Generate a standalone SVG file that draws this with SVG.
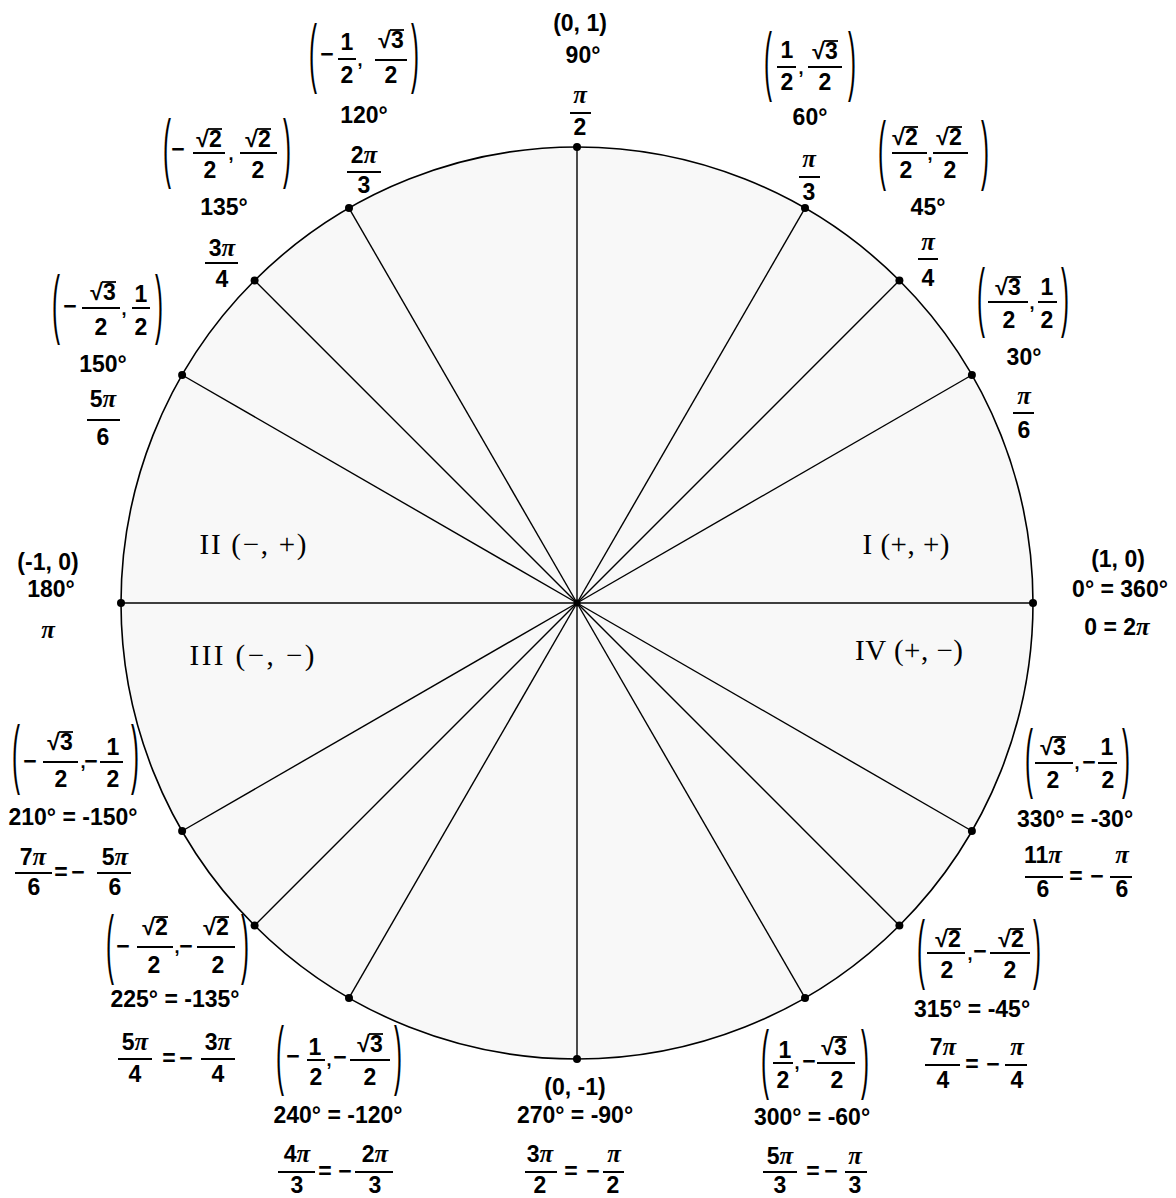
<svg xmlns="http://www.w3.org/2000/svg" width="1176" height="1198" viewBox="0 0 1176 1198">
<style>
.t{font-family:"Liberation Sans",Arial,sans-serif;font-weight:bold;font-size:23px;text-anchor:middle;fill:#000}
.pi{font-family:"Liberation Serif","Times New Roman",serif;font-style:italic;font-weight:bold;font-size:25px}
.b{stroke:#000;stroke-width:2}
.v{stroke:#000;stroke-width:1.8}
.pr{font-family:"Liberation Sans",Arial,sans-serif;font-size:24px;text-anchor:middle;fill:#000}
.q{font-family:"Liberation Serif","Times New Roman",serif;font-size:29px;text-anchor:middle;fill:#000}
.c{font-family:"Liberation Sans",Arial,sans-serif;font-weight:bold;font-size:18px;text-anchor:middle;fill:#000}
.ln{stroke:#000;stroke-width:1.4}
.dot{fill:#000}
</style>
<rect width="1176" height="1198" fill="#fff"/>
<circle id="unit-circle" cx="577" cy="603" r="456" fill="#f8f8f8" stroke="#000" stroke-width="1.6"/>
<g id="connectors">
<line class="ln" x1="577" y1="603" x2="1033" y2="603" stroke-width="1.8"/>
<line class="ln" x1="577" y1="603" x2="971.9" y2="375"/>
<line class="ln" x1="577" y1="603" x2="899.4" y2="280.6" stroke-width="2"/>
<line class="ln" x1="577" y1="603" x2="805" y2="208.1"/>
<line class="ln" x1="577" y1="603" x2="577" y2="147" stroke-width="1.8"/>
<line class="ln" x1="577" y1="603" x2="349" y2="208.1"/>
<line class="ln" x1="577" y1="603" x2="254.6" y2="280.6"/>
<line class="ln" x1="577" y1="603" x2="182.1" y2="375"/>
<line class="ln" x1="577" y1="603" x2="121" y2="603" stroke-width="1.8"/>
<line class="ln" x1="577" y1="603" x2="182.1" y2="831"/>
<line class="ln" x1="577" y1="603" x2="254.6" y2="925.4" stroke-width="2"/>
<line class="ln" x1="577" y1="603" x2="349" y2="997.9"/>
<line class="ln" x1="577" y1="603" x2="577" y2="1059" stroke-width="1.8"/>
<line class="ln" x1="577" y1="603" x2="805" y2="997.9"/>
<line class="ln" x1="577" y1="603" x2="899.4" y2="925.4"/>
<line class="ln" x1="577" y1="603" x2="971.9" y2="831"/>
<circle class="dot" cx="577" cy="603" r="3.5"/>
</g>
<g id="quadrants">
<text class="q" x="253" y="554" textLength="107" lengthAdjust="spacing">II (−, +)</text>
<text class="q" x="252" y="665" textLength="125" lengthAdjust="spacing">III (−, −)</text>
<text class="q" x="906" y="554" textLength="87" lengthAdjust="spacing">I (+, +)</text>
<text class="q" x="909" y="660" textLength="108" lengthAdjust="spacing">IV (+, −)</text>
</g>
<g id="p0">
<circle class="dot" cx="1033" cy="603" r="4"/>
<text class="t" x="1118" y="567">(1, 0)</text>
<text class="t" x="1120" y="597">0° = 360°</text>
<text class="t" x="1117" y="635">0 = 2<tspan class="pi">π</tspan></text>
</g>
<g id="p30">
<circle class="dot" cx="971.9" cy="375" r="4"/>
<text class="pr" transform="translate(981,322) scale(1,3.2)">(</text>
<text class="t" x="1008" y="295">√3</text><line class="v" x1="1007" y1="277" x2="1021" y2="277"/><line class="b" x1="988" y1="302" x2="1028" y2="302"/><text class="t" x="1009" y="328">2</text>
<text class="c" x="1032" y="309">,</text>
<text class="t" x="1047" y="295">1</text><line class="b" x1="1038" y1="302" x2="1057" y2="302"/><text class="t" x="1047" y="328">2</text>
<text class="pr" transform="translate(1065,322) scale(1,3.2)">)</text>
<text class="t" x="1024" y="365">30°</text>
<text class="t" x="1024" y="404"><tspan class="pi">π</tspan></text><line class="b" x1="1013" y1="413" x2="1034" y2="413"/><text class="t" x="1024" y="438">6</text>
</g>
<g id="p45">
<circle class="dot" cx="899.4" cy="280.6" r="4"/>
<text class="pr" transform="translate(882,175) scale(1,3.2)">(</text>
<text class="t" x="905" y="145">√2</text><line class="v" x1="904" y1="127" x2="918" y2="127"/><line class="b" x1="892" y1="153" x2="927" y2="153"/><text class="t" x="906" y="178">2</text>
<text class="c" x="930" y="160">,</text>
<text class="t" x="949" y="145">√2</text><line class="v" x1="948" y1="127" x2="962" y2="127"/><line class="b" x1="933" y1="153" x2="968" y2="153"/><text class="t" x="950" y="178">2</text>
<text class="pr" transform="translate(985,175) scale(1,3.2)">)</text>
<text class="t" x="928" y="215">45°</text>
<text class="t" x="928" y="250"><tspan class="pi">π</tspan></text><line class="b" x1="918" y1="259" x2="938" y2="259"/><text class="t" x="928" y="286">4</text>
</g>
<g id="p60">
<circle class="dot" cx="805" cy="208.1" r="4"/>
<text class="pr" transform="translate(768,86) scale(1,3.2)">(</text>
<text class="t" x="787" y="58">1</text><line class="b" x1="777" y1="67" x2="796" y2="67"/><text class="t" x="787" y="90">2</text>
<text class="c" x="801" y="74">,</text>
<text class="t" x="825" y="59">√3</text><line class="v" x1="824" y1="41" x2="838" y2="41"/><line class="b" x1="808" y1="67" x2="842" y2="67"/><text class="t" x="825" y="90">2</text>
<text class="pr" transform="translate(852,86) scale(1,3.2)">)</text>
<text class="t" x="810" y="125">60°</text>
<text class="t" x="809" y="167"><tspan class="pi">π</tspan></text><line class="b" x1="799" y1="177" x2="820" y2="177"/><text class="t" x="809" y="200">3</text>
</g>
<g id="p90">
<circle class="dot" cx="577" cy="147" r="4"/>
<text class="t" x="580" y="31">(0, 1)</text>
<text class="t" x="583" y="63">90°</text>
<text class="t" x="580" y="103"><tspan class="pi">π</tspan></text><line class="b" x1="570" y1="113" x2="591" y2="113"/><text class="t" x="580" y="135">2</text>
</g>
<g id="p120">
<circle class="dot" cx="349" cy="208.1" r="4"/>
<text class="pr" transform="translate(313,78) scale(1,3.2)">(</text>
<text class="t" x="327" y="62">−</text>
<text class="t" x="347" y="50">1</text><line class="b" x1="338" y1="59" x2="356" y2="59"/><text class="t" x="347" y="83">2</text>
<text class="c" x="360" y="66">,</text>
<text class="t" x="391" y="48">√3</text><line class="v" x1="390" y1="30" x2="404" y2="30"/><line class="b" x1="375" y1="60" x2="407" y2="60"/><text class="t" x="391" y="83">2</text>
<text class="pr" transform="translate(415,78) scale(1,3.2)">)</text>
<text class="t" x="364" y="123">120°</text>
<text class="t" x="364" y="163">2<tspan class="pi">π</tspan></text><line class="b" x1="347" y1="172" x2="381" y2="172"/><text class="t" x="364" y="193">3</text>
</g>
<g id="p135">
<circle class="dot" cx="254.6" cy="280.6" r="4"/>
<text class="pr" transform="translate(167,173) scale(1,3.2)">(</text>
<text class="t" x="178" y="157">−</text>
<text class="t" x="209" y="147">√2</text><line class="v" x1="208" y1="129" x2="222" y2="129"/><line class="b" x1="193" y1="153" x2="225" y2="153"/><text class="t" x="210" y="178">2</text>
<text class="c" x="231" y="160">,</text>
<text class="t" x="258" y="147">√2</text><line class="v" x1="257" y1="129" x2="271" y2="129"/><line class="b" x1="240" y1="153" x2="277" y2="153"/><text class="t" x="258" y="178">2</text>
<text class="pr" transform="translate(287,173) scale(1,3.2)">)</text>
<text class="t" x="224" y="215">135°</text>
<text class="t" x="222" y="256">3<tspan class="pi">π</tspan></text><line class="b" x1="205" y1="263" x2="238" y2="263"/><text class="t" x="222" y="287">4</text>
</g>
<g id="p150">
<circle class="dot" cx="182.1" cy="375" r="4"/>
<text class="pr" transform="translate(56,329) scale(1,3.2)">(</text>
<text class="t" x="70" y="314">−</text>
<text class="t" x="103" y="300">√3</text><line class="v" x1="102" y1="282" x2="116" y2="282"/><line class="b" x1="82" y1="308" x2="120" y2="308"/><text class="t" x="101" y="335">2</text>
<text class="c" x="124" y="315">,</text>
<text class="t" x="141" y="302">1</text><line class="b" x1="132" y1="308" x2="150" y2="308"/><text class="t" x="141" y="335">2</text>
<text class="pr" transform="translate(159,329) scale(1,3.2)">)</text>
<text class="t" x="103" y="372">150°</text>
<text class="t" x="103" y="407">5<tspan class="pi">π</tspan></text><line class="b" x1="87" y1="420" x2="120" y2="420"/><text class="t" x="103" y="445">6</text>
</g>
<g id="p180">
<circle class="dot" cx="121" cy="603" r="4"/>
<text class="t" x="48" y="570">(-1, 0)</text>
<text class="t" x="51" y="597">180°</text>
<text class="t" x="48" y="638"><tspan class="pi">π</tspan></text>
</g>
<g id="p210">
<circle class="dot" cx="182.1" cy="831" r="4"/>
<text class="pr" transform="translate(16,779) scale(1,3.2)">(</text>
<text class="t" x="30" y="769">−</text>
<text class="t" x="60" y="750">√3</text><line class="v" x1="59" y1="732" x2="73" y2="732"/><line class="b" x1="43" y1="762" x2="78" y2="762"/><text class="t" x="61" y="787">2</text>
<text class="c" x="83" y="768">,</text>
<text class="t" x="91" y="769">−</text>
<text class="t" x="113" y="755">1</text><line class="b" x1="100" y1="762" x2="123" y2="762"/><text class="t" x="113" y="787">2</text>
<text class="pr" transform="translate(135,779) scale(1,3.2)">)</text>
<text class="t" x="73" y="825">210° = -150°</text>
<text class="t" x="33" y="865">7<tspan class="pi">π</tspan></text><line class="b" x1="15" y1="873" x2="52" y2="873"/><text class="t" x="34" y="895">6</text>
<text class="t" x="61" y="880">=</text><text class="t" x="78" y="880">−</text>
<text class="t" x="115" y="865">5<tspan class="pi">π</tspan></text><line class="b" x1="97" y1="873" x2="131" y2="873"/><text class="t" x="115" y="895">6</text>
</g>
<g id="p225">
<circle class="dot" cx="254.6" cy="925.4" r="4"/>
<text class="pr" transform="translate(110,969) scale(1,3.2)">(</text>
<text class="t" x="123" y="954">−</text>
<text class="t" x="155" y="935">√2</text><line class="v" x1="154" y1="917" x2="168" y2="917"/><line class="b" x1="137" y1="947" x2="173" y2="947"/><text class="t" x="154" y="973">2</text>
<text class="c" x="177" y="953">,</text>
<text class="t" x="186" y="954">−</text>
<text class="t" x="216" y="935">√2</text><line class="v" x1="215" y1="917" x2="229" y2="917"/><line class="b" x1="197" y1="947" x2="235" y2="947"/><text class="t" x="218" y="973">2</text>
<text class="pr" transform="translate(245,969) scale(1,3.2)">)</text>
<text class="t" x="175" y="1007">225° = -135°</text>
<text class="t" x="135" y="1050">5<tspan class="pi">π</tspan></text><line class="b" x1="118" y1="1059" x2="152" y2="1059"/><text class="t" x="135" y="1082">4</text>
<text class="t" x="169" y="1066">=</text><text class="t" x="186" y="1066">−</text>
<text class="t" x="218" y="1050">3<tspan class="pi">π</tspan></text><line class="b" x1="201" y1="1059" x2="235" y2="1059"/><text class="t" x="218" y="1082">4</text>
</g>
<g id="p240">
<circle class="dot" cx="349" cy="997.9" r="4"/>
<text class="pr" transform="translate(280,1080) scale(1,3.2)">(</text>
<text class="t" x="293" y="1064">−</text>
<text class="t" x="315" y="1055">1</text><line class="b" x1="307" y1="1060" x2="325" y2="1060"/><text class="t" x="316" y="1085">2</text>
<text class="c" x="329" y="1066">,</text>
<text class="t" x="340" y="1065">−</text>
<text class="t" x="370" y="1052">√3</text><line class="v" x1="369" y1="1034" x2="383" y2="1034"/><line class="b" x1="350" y1="1060" x2="390" y2="1060"/><text class="t" x="370" y="1085">2</text>
<text class="pr" transform="translate(398,1080) scale(1,3.2)">)</text>
<text class="t" x="338" y="1123">240° = -120°</text>
<text class="t" x="297" y="1162">4<tspan class="pi">π</tspan></text><line class="b" x1="278" y1="1172" x2="315" y2="1172"/><text class="t" x="297" y="1193">3</text>
<text class="t" x="325" y="1179">=</text><text class="t" x="345" y="1179">−</text>
<text class="t" x="375" y="1162">2<tspan class="pi">π</tspan></text><line class="b" x1="355" y1="1172" x2="393" y2="1172"/><text class="t" x="375" y="1193">3</text>
</g>
<g id="p270">
<circle class="dot" cx="577" cy="1059" r="4"/>
<text class="t" x="575" y="1095">(0, -1)</text>
<text class="t" x="575" y="1123">270° = -90°</text>
<text class="t" x="540" y="1162">3<tspan class="pi">π</tspan></text><line class="b" x1="525" y1="1172" x2="557" y2="1172"/><text class="t" x="540" y="1193">2</text>
<text class="t" x="571" y="1179">=</text><text class="t" x="593" y="1179">−</text>
<text class="t" x="614" y="1162"><tspan class="pi">π</tspan></text><line class="b" x1="603" y1="1172" x2="624" y2="1172"/><text class="t" x="613" y="1193">2</text>
</g>
<g id="p300">
<circle class="dot" cx="805" cy="997.9" r="4"/>
<text class="pr" transform="translate(765,1084) scale(1,3.2)">(</text>
<text class="t" x="785" y="1058">1</text><line class="b" x1="773" y1="1063" x2="793" y2="1063"/><text class="t" x="783" y="1088">2</text>
<text class="c" x="797" y="1069">,</text>
<text class="t" x="809" y="1069">−</text>
<text class="t" x="834" y="1055">√3</text><line class="v" x1="833" y1="1037" x2="847" y2="1037"/><line class="b" x1="817" y1="1063" x2="855" y2="1063"/><text class="t" x="837" y="1088">2</text>
<text class="pr" transform="translate(865,1084) scale(1,3.2)">)</text>
<text class="t" x="812" y="1125">300° = -60°</text>
<text class="t" x="780" y="1164">5<tspan class="pi">π</tspan></text><line class="b" x1="763" y1="1172" x2="797" y2="1172"/><text class="t" x="780" y="1193">3</text>
<text class="t" x="813" y="1179">=</text><text class="t" x="831" y="1179">−</text>
<text class="t" x="855" y="1164"><tspan class="pi">π</tspan></text><line class="b" x1="845" y1="1172" x2="867" y2="1172"/><text class="t" x="855" y="1193">3</text>
</g>
<g id="p315">
<circle class="dot" cx="899.4" cy="925.4" r="4"/>
<text class="pr" transform="translate(921,974) scale(1,3.2)">(</text>
<text class="t" x="948" y="947">√2</text><line class="v" x1="947" y1="929" x2="961" y2="929"/><line class="b" x1="927" y1="953" x2="965" y2="953"/><text class="t" x="947" y="978">2</text>
<text class="c" x="970" y="960">,</text>
<text class="t" x="980" y="959">−</text>
<text class="t" x="1011" y="947">√2</text><line class="v" x1="1010" y1="929" x2="1024" y2="929"/><line class="b" x1="990" y1="953" x2="1030" y2="953"/><text class="t" x="1010" y="978">2</text>
<text class="pr" transform="translate(1037,974) scale(1,3.2)">)</text>
<text class="t" x="972" y="1017">315° = -45°</text>
<text class="t" x="943" y="1055">7<tspan class="pi">π</tspan></text><line class="b" x1="925" y1="1065" x2="960" y2="1065"/><text class="t" x="943" y="1088">4</text>
<text class="t" x="972" y="1072">=</text><text class="t" x="993" y="1072">−</text>
<text class="t" x="1017" y="1055"><tspan class="pi">π</tspan></text><line class="b" x1="1005" y1="1065" x2="1027" y2="1065"/><text class="t" x="1017" y="1088">4</text>
</g>
<g id="p330">
<circle class="dot" cx="971.9" cy="831" r="4"/>
<text class="pr" transform="translate(1029,783) scale(1,3.2)">(</text>
<text class="t" x="1053" y="755">√3</text><line class="v" x1="1052" y1="737" x2="1066" y2="737"/><line class="b" x1="1035" y1="763" x2="1073" y2="763"/><text class="t" x="1053" y="788">2</text>
<text class="c" x="1077" y="769">,</text>
<text class="t" x="1089" y="770">−</text>
<text class="t" x="1107" y="755">1</text><line class="b" x1="1098" y1="763" x2="1117" y2="763"/><text class="t" x="1108" y="788">2</text>
<text class="pr" transform="translate(1126,783) scale(1,3.2)">)</text>
<text class="t" x="1075" y="827">330° = -30°</text>
<text class="t" x="1043" y="863">11<tspan class="pi">π</tspan></text><line class="b" x1="1025" y1="877" x2="1063" y2="877"/><text class="t" x="1043" y="897">6</text>
<text class="t" x="1076" y="884">=</text><text class="t" x="1097" y="884">−</text>
<text class="t" x="1122" y="863"><tspan class="pi">π</tspan></text><line class="b" x1="1110" y1="877" x2="1132" y2="877"/><text class="t" x="1122" y="897">6</text>
</g>
</svg>
